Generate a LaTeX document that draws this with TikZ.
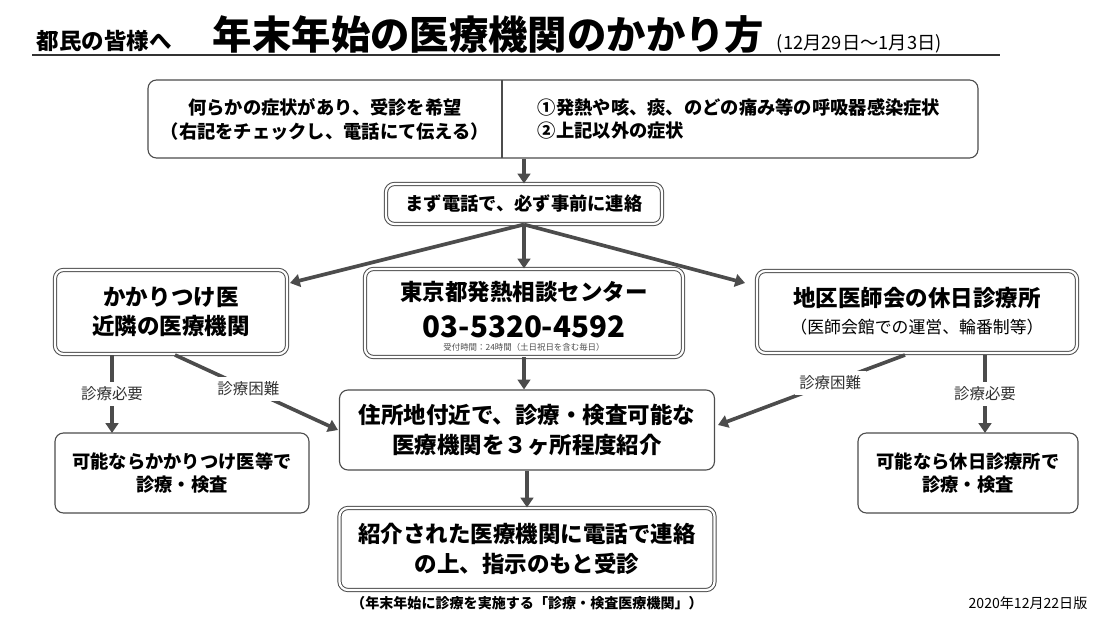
\documentclass[tikz,border=0pt]{standalone}
\usepackage{fontspec}
\setmainfont{Noto Sans CJK JP}
\usetikzlibrary{arrows.meta}
\begin{document}
\begin{tikzpicture}[x=0.025cm, y=-0.025cm,
		box_style/.style={draw=black!70, rounded corners=6pt, line width=0.8pt, align=center, font=\bfseries\fontsize{13}{16}\selectfont},
		dbl_style/.style={box_style, double=white, double distance=1.6pt, line width=0.7pt},
		edge_style/.style={draw=black!70, line width=2.6pt, -{Triangle[length=7pt,width=9pt]}},
		lab_style/.style={fill=white, font=\fontsize{11}{13}\selectfont, text=black!80}]
		
		\useasboundingbox (0,0) rectangle (1100,617);
		
		% title
		\node[anchor=base west, font=\bfseries\fontsize{16}{18}\selectfont] (t1) at (32,50) {都民の皆様へ};
		\node[anchor=base west, font=\bfseries\fontsize{28}{32}\selectfont] (t2) at (208,50) {年末年始の医療機関のかかり方};
		\node[anchor=base west, font=\fontsize{13}{15}\selectfont] (t3) at (772,50) {(12月29日～1月3日)};
		\draw[line width=1pt, black!80] (32,55) -- (1000,55);
		
		% boxes
		\node[box_style, minimum width=830*0.025cm, minimum height=78*0.025cm] (top) at (563,119) {};
		\draw[black!70, line width=0.8pt] (502,80) -- (502,158);
		\node[align=center, font=\bfseries\fontsize{13}{17}\selectfont] (sym) at (325,119) {何らかの症状があり、受診を希望\\（右記をチェックし、電話にて伝える）};
		\node[align=left, anchor=west, font=\bfseries\fontsize{13}{17}\selectfont] (chk) at (533,119) {①発熱や咳、痰、のどの痛み等の呼吸器感染症状\\②上記以外の症状};
		
		\node[dbl_style, minimum width=276*0.025cm, minimum height=40*0.025cm] (call) at (524,204) {まず電話で、必ず事前に連絡};
		
		\node[dbl_style, minimum width=232*0.025cm, minimum height=84*0.025cm, font=\bfseries\fontsize{16}{21}\selectfont] (kakari) at (171,312) {かかりつけ医\\近隣の医療機関};
		\node[dbl_style, minimum width=318*0.025cm, minimum height=88*0.025cm] (tokyo) at (524,313) {};
		\node[font=\bfseries\fontsize{16}{18}\selectfont] (tname) at (524,292) {東京都発熱相談センター};
		\node[font=\bfseries\fontsize{21}{23}\selectfont] (tnum) at (524,327) {03-5320-4592};
		\node[font=\fontsize{6}{7}\selectfont, text=black!70] (thour) at (524,347) {受付時間：24時間（土日祝日を含む毎日）};
		\node[dbl_style, minimum width=320*0.025cm, minimum height=82*0.025cm] (chiku) at (917,312) {};
		\node[font=\bfseries\fontsize{16}{18}\selectfont] (cname) at (917,298) {地区医師会の休日診療所};
		\node[font=\fontsize{12}{14}\selectfont] (cnote) at (917,327) {（医師会館での運営、輪番制等）};
		
		\node[box_style, minimum width=375*0.025cm, minimum height=80*0.025cm, font=\bfseries\fontsize{16}{21}\selectfont] (intro) at (527,430) {住所地付近で、診療・検査可能な\\医療機関を３ヶ所程度紹介};
		\node[box_style, minimum width=254*0.025cm, minimum height=80*0.025cm] (lok) at (182,473) {可能ならかかりつけ医等で\\診療・検査};
		\node[box_style, minimum width=220*0.025cm, minimum height=80*0.025cm] (rok) at (968,473) {可能なら休日診療所で\\診療・検査};
		\node[dbl_style, minimum width=375*0.025cm, minimum height=82*0.025cm, font=\bfseries\fontsize{16}{21}\selectfont] (visit) at (527,549) {紹介された医療機関に電話で連絡\\の上、指示のもと受診};
		
		\node[font=\bfseries\fontsize{10}{12}\selectfont] (foot) at (527,603) {（年末年始に診療を実施する「診療・検査医療機関」）};
		\node[font=\fontsize{10}{12}\selectfont] (date) at (1028,603) {2020年12月22日版};
		
		% connectors
		\coordinate (kin) at (290,283);
		\coordinate (cin) at (745,283);
		\draw[edge_style] (top.south -| call) -- (call.north);
		\draw[edge_style] (call.south) -- (kin);
		\draw[edge_style] (call.south) -- (tokyo.north);
		\draw[edge_style] (call.south) -- (cin);
		\draw[edge_style] (tokyo.south) -- (tokyo.south |- intro.north);
		\draw[edge_style] (intro.south -| visit) -- (visit.north);
		\draw[edge_style] (112,355) -- node[lab_style] {診療必要} (112,433);
		\draw[edge_style] (175,355) -- node[lab_style, pos=0.45] {診療困難} (338,430);
		\draw[edge_style] (905,355) -- node[lab_style, pos=0.4] {診療困難} (718,425);
		\draw[edge_style] (985,355) -- node[lab_style] {診療必要} (985,433);
		\end{tikzpicture}
\end{document}
